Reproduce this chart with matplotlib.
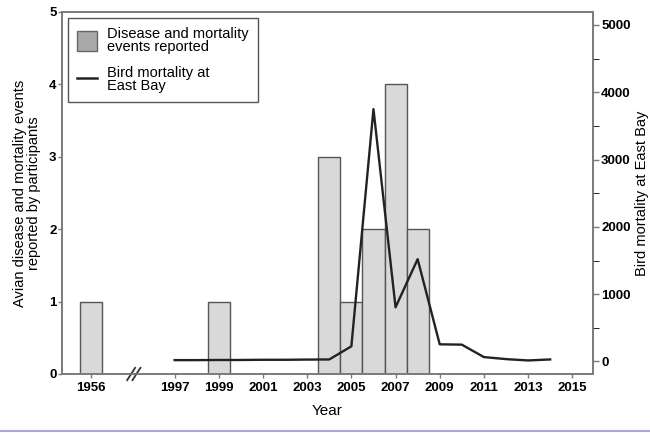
import matplotlib
matplotlib.use("Agg")
import matplotlib.pyplot as plt
from matplotlib.patches import Patch
from matplotlib.lines import Line2D
import numpy as np

plt.rcParams['font.family'] = ['Liberation Sans', 'DejaVu Sans']

# Disease and mortality events reported (left axis)
event_years = [1956, 1999, 2004, 2005, 2006, 2007, 2008]
event_counts = [1, 1, 3, 1, 2, 4, 2]

# Bird mortality at East Bay (right axis)
mort_years = [1997, 1998, 1999, 2000, 2001, 2002, 2003, 2004, 2005, 2006, 2007,
              2008, 2009, 2010, 2011, 2012, 2013, 2014]
mort_values = [20, 20, 22, 22, 25, 25, 28, 30, 225, 3750, 805, 1520, 255, 250,
               65, 35, 15, 30]

tick_years = [1956, 1997, 1999, 2001, 2003, 2005, 2007, 2009, 2011, 2013, 2015]

# the axis is broken between 1956 and 1997; 1956 sits at this position
POS_1956 = 1993.2
BREAK_POS = 1995.15


def xpos(years):
    return [POS_1956 if y == 1956 else y for y in years]


fig = plt.figure(figsize=(6.5, 4.33), dpi=100)
ax = fig.add_axes([0.0954, 0.1363, 0.912 - 0.0954, 0.9723 - 0.1363])
ax2 = ax.twinx()

spine_col = '#7a7a7a'
ax.bar(xpos(event_years), event_counts, width=1.0, color='#d9d9d9',
       edgecolor='#555555', linewidth=1.0, zorder=2)
ax2.plot(mort_years, mort_values, color='#222222', linewidth=1.7, zorder=3)

ax.set_xlim(1991.9, 2015.93)
ax.set_ylim(0, 5)
ax2.set_ylim(-186, 5193)

ax.set_xticks(xpos(tick_years))
ax.set_xticklabels([str(y) for y in tick_years], fontweight='bold', fontsize=9.5)
ax.set_yticks(range(0, 6))
ax.set_yticklabels([str(v) for v in range(0, 6)], fontweight='bold', fontsize=9.5)
ax2.set_yticks(range(0, 5001, 1000))
ax2.set_yticklabels([str(v) for v in range(0, 5001, 1000)], fontweight='bold', fontsize=9.5)
ax2.set_yticks(range(500, 5000, 1000), minor=True)

for a in (ax, ax2):
    for s in a.spines.values():
        s.set_color(spine_col)
        s.set_linewidth(1.2)
    a.tick_params(colors=spine_col, labelcolor='black', direction='out', length=3, width=1)
ax2.tick_params(axis='y', which='both', length=4, pad=2)
ax.tick_params(axis='y', pad=1)
ax.tick_params(axis='x', pad=3)

# axis break marker: two short slanted strokes across the x axis
trans = ax.get_xaxis_transform()
for dx in (-0.12, 0.12):
    ax.plot([BREAK_POS + dx - 0.18, BREAK_POS + dx + 0.18], [-0.017, 0.017],
            color='#333333', linewidth=1.3, transform=trans, clip_on=False, zorder=5)

ax.set_xlabel('Year', fontsize=11, labelpad=7)
fig.text(27 / 650, 0.5545, 'Avian disease and mortality events\nreported by participants',
         rotation=90, ha='center', va='center', fontsize=10.5, multialignment='center',
         linespacing=0.95)
fig.text(635 / 650, 0.5545, 'Bird mortality at East Bay', rotation=90,
         ha='left', va='center', fontsize=10.5)

handles = [Patch(facecolor='#a9a9a9', edgecolor='#666666', linewidth=1.0),
           Line2D([0], [0], color='#222222', linewidth=1.8)]
labels = ['Disease and mortality\nevents reported', 'Bird mortality at\nEast Bay']
leg = ax.legend(handles, labels, loc='upper left', bbox_to_anchor=(0.0113, 0.983),
                borderaxespad=0, fontsize=10.5, fancybox=False, framealpha=1,
                edgecolor='#555555', handlelength=1.4, handleheight=1.8,
                handletextpad=0.7, labelspacing=0.85, borderpad=0.6)
leg.get_frame().set_linewidth(1.0)
for t in leg.get_texts():
    t.set_linespacing(0.9)

fig.add_artist(Line2D([0, 1], [0.0035, 0.0035], color='#a9a9d6', linewidth=1.5))

fig.savefig('out.png', dpi=100)
